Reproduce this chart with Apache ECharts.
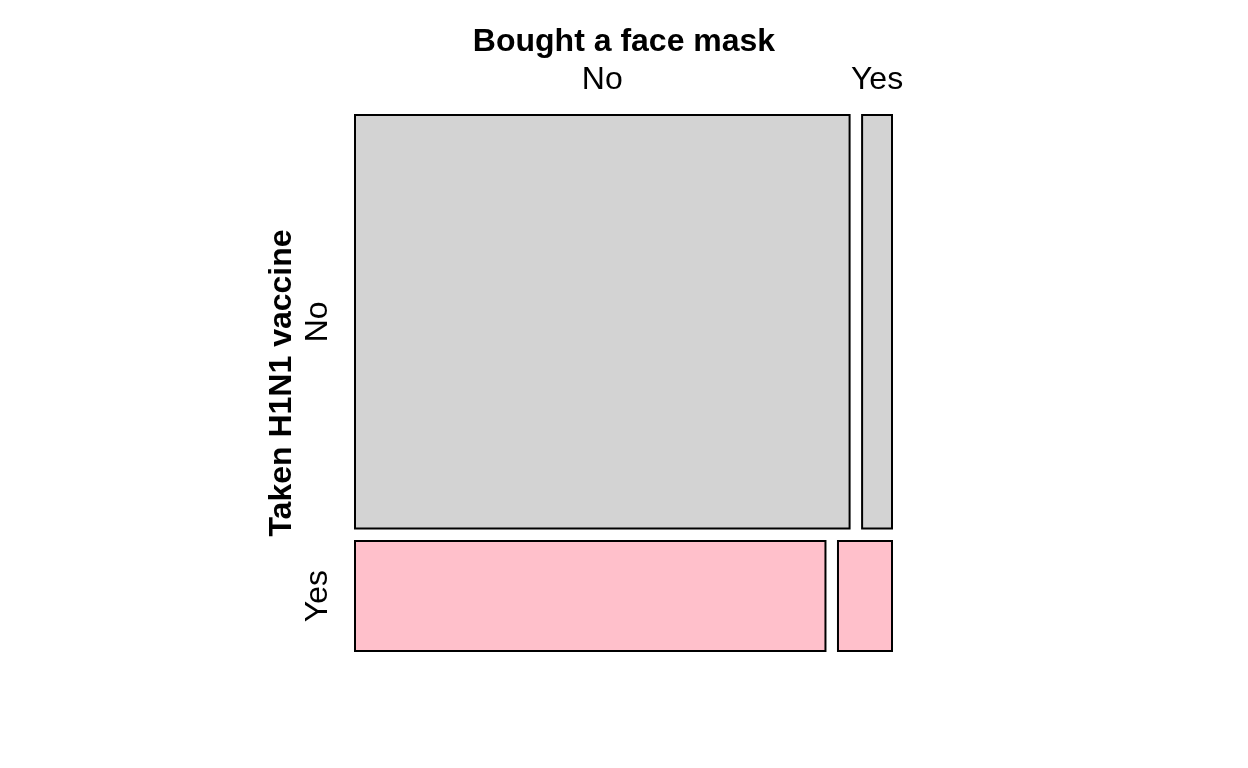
<!DOCTYPE html>
<html>
<head>
<meta charset="utf-8">
<script src="https://cdn.jsdelivr.net/npm/echarts@6/dist/echarts.min.js"></script>
<style>
html,body{margin:0;padding:0;background:#fff;}
#chart{width:1248px;height:768px;}
</style>
</head>
<body>
<div id="chart"></div>
<script>
// ---- data ----
const vaccineLevels = ['No', 'Yes'];          // rows: Taken H1N1 vaccine
const maskLevels = ['No', 'Yes'];             // columns within rows: Bought a face mask
const vaccineShare = [0.790, 0.210];          // share of each vaccine level
const maskShareNoVaccine = [0.943, 0.057];    // mask split among vaccine = No
const maskShareYesVaccine = [0.897, 0.103];   // mask split among vaccine = Yes
const rowColors = ['#D3D3D3', '#FFC0CB'];
const xTitle = 'Bought a face mask';
const yTitle = 'Taken H1N1 vaccine';

// ---- layout built from data ----
const GAP = 0.0233;
const maskShares = [maskShareNoVaccine, maskShareYesVaccine];
const cells = [];
let y = 0;
vaccineLevels.forEach(function (v, i) {
  const h = vaccineShare[i] * (1 - GAP);
  let x = 0;
  maskLevels.forEach(function (m, j) {
    const w = maskShares[i][j] * (1 - GAP);
    cells.push([x, y, x + w, y + h, i, j]);
    x += w + GAP;
  });
  y += h + GAP;
});

const FONT = '32px "Liberation Sans", Arial, sans-serif';
const BOLD = 'bold 32px "Liberation Sans", Arial, sans-serif';

const chart = echarts.init(document.getElementById('chart'), null, {renderer: 'canvas'});
chart.setOption({
  backgroundColor: '#ffffff',
  animation: false,
  title: {
    text: xTitle,
    left: 'center',
    top: 26,
    padding: 0,
    textStyle: {fontFamily: '"Liberation Sans", Arial, sans-serif', fontSize: 32, fontWeight: 'bold', color: '#000'}
  },
  grid: {left: 355, top: 115, width: 537, height: 536},
  xAxis: {type: 'value', min: 0, max: 1, show: false},
  yAxis: {type: 'value', min: 0, max: 1, inverse: true, show: false},
  graphic: [{
    type: 'text',
    x: 282, y: 383,
    rotation: Math.PI / 2,
    style: {text: yTitle, font: BOLD, fill: '#000', textAlign: 'center', textVerticalAlign: 'middle'}
  }],
  series: [{
    type: 'custom',
    clip: false,
    data: cells,
    renderItem: function (params, api) {
      const p0 = api.coord([api.value(0), api.value(1)]);
      const p1 = api.coord([api.value(2), api.value(3)]);
      const i = api.value(4), j = api.value(5);
      const children = [{
        type: 'rect',
        shape: {x: p0[0], y: p0[1], width: p1[0] - p0[0], height: p1[1] - p0[1]},
        style: {fill: rowColors[i], stroke: '#000', lineWidth: 2}
      }];
      if (i === 0) {
        children.push({
          type: 'text',
          x: (p0[0] + p1[0]) / 2, y: p0[1] - 35,
          style: {text: maskLevels[j], font: FONT, fill: '#000', textAlign: 'center', textVerticalAlign: 'middle'}
        });
      }
      if (j === 0) {
        children.push({
          type: 'text',
          x: p0[0] - 37, y: (p0[1] + p1[1]) / 2,
          rotation: Math.PI / 2,
          style: {text: vaccineLevels[i], font: FONT, fill: '#000', textAlign: 'center', textVerticalAlign: 'middle'}
        });
      }
      return {type: 'group', children: children};
    }
  }]
});
</script>
</body>
</html>
